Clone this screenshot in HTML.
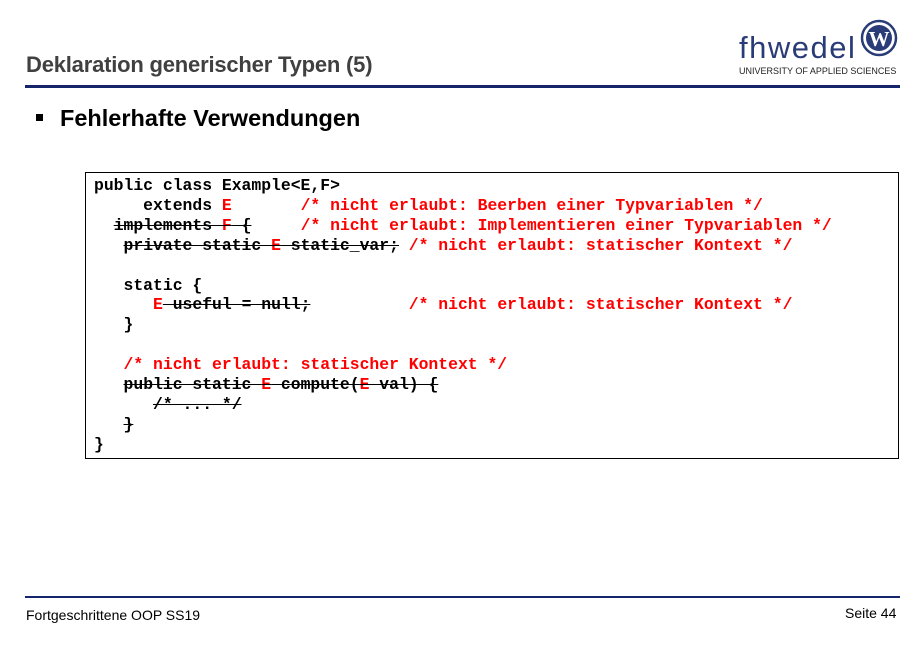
<!DOCTYPE html>
<html><head><meta charset="utf-8"><style>
html,body{margin:0;padding:0;background:#fff;}
body{width:920px;height:650px;position:relative;overflow:hidden;font-family:"Liberation Sans",sans-serif;}
.a{position:absolute;white-space:nowrap;}
pre.a{margin:0;white-space:pre;font-family:"Liberation Mono",monospace;font-weight:bold;font-size:16.4px;line-height:19.9px;color:#000;}
.r{color:#f00;}
.s{text-decoration:line-through;text-decoration-thickness:1px;}
</style></head><body>
<div class="a" style="left:26px;top:52px;font-size:22px;font-weight:bold;color:#404040;letter-spacing:-0.2px;">Deklaration generischer Typen (5)</div>
<div class="a" style="left:25px;top:85px;width:875px;height:3px;background:#14256b;"></div>
<div class="a" style="left:739px;top:30px;font-size:31px;color:#2a3c78;letter-spacing:1.5px;">fhwedel</div>
<svg class="a" style="left:860px;top:19px" width="38" height="38"><circle cx="19" cy="19" r="17" fill="#fff" stroke="#2a3c78" stroke-width="2.5"/><circle cx="19" cy="19" r="13" fill="#2a3c78"/><text x="19" y="27" text-anchor="middle" font-family="Liberation Serif" font-weight="bold" font-size="21" fill="#fff">W</text></svg>
<div class="a" style="left:739px;top:66px;font-size:9px;color:#222;">UNIVERSITY OF APPLIED SCIENCES</div>
<div class="a" style="left:36px;top:114px;width:7px;height:7px;background:#000;"></div>
<div class="a" style="left:60px;top:105px;font-size:23.5px;font-weight:bold;color:#000;">Fehlerhafte Verwendungen</div>
<div class="a" style="left:85px;top:172px;width:814px;height:287px;border:1px solid #000;box-sizing:border-box;"></div>
<pre class="a" style="left:94px;top:176px;">public class Example&lt;E,F&gt;
     extends <span class="r">E</span>       <span class="r">/* nicht erlaubt: Beerben einer Typvariablen */</span>
  <span class="s">implements <span class="r">F</span> {</span>     <span class="r">/* nicht erlaubt: Implementieren einer Typvariablen */</span>
   <span class="s">private static <span class="r">E</span> static_var;</span> <span class="r">/* nicht erlaubt: statischer Kontext */</span>

   static {
      <span class="r">E</span><span class="s"> useful = null;</span>          <span class="r">/* nicht erlaubt: statischer Kontext */</span>
   }

   <span class="r">/* nicht erlaubt: statischer Kontext */</span>
   <span class="s">public static <span class="r">E</span> compute(<span class="r">E</span> val) {</span>
      <span class="s">/* ... */</span>
   <span class="s">}</span>
}</pre>
<div class="a" style="left:25px;top:596px;width:875px;height:2px;background:#14256b;"></div>
<div class="a" style="left:26px;top:607px;font-size:14px;color:#000;">Fortgeschrittene OOP SS19</div>
<div class="a" style="left:845px;top:605px;font-size:14px;color:#000;">Seite 44</div>
</body></html>
